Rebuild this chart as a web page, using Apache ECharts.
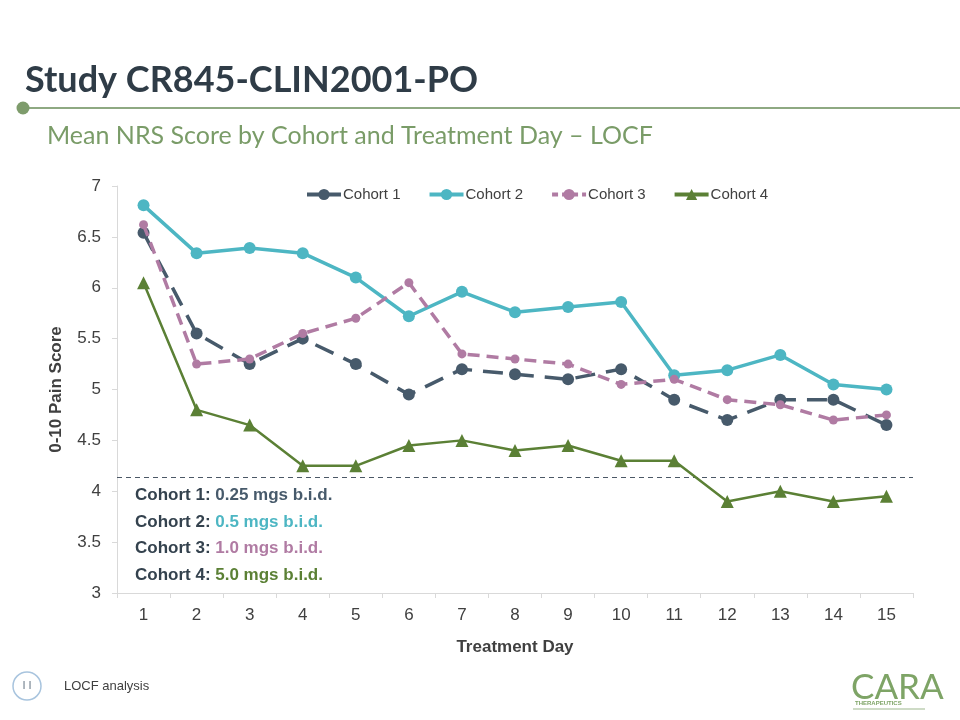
<!DOCTYPE html>
<html>
<head>
<meta charset="utf-8">
<script src="https://cdn.jsdelivr.net/npm/echarts@6/dist/echarts.min.js"></script>
<style>html,body{margin:0;padding:0;background:#fff;}#c{width:960px;height:720px;}</style>
</head>
<body>
<div id="c"></div>
<script>
var days = ['1','2','3','4','5','6','7','8','9','10','11','12','13','14','15'];
var cohort1 = [6.54, 5.55, 5.25, 5.5, 5.25, 4.95, 5.2, 5.15, 5.1, 5.2, 4.9, 4.7, 4.9, 4.9, 4.65];
var cohort2 = [6.81, 6.34, 6.39, 6.34, 6.1, 5.72, 5.96, 5.76, 5.81, 5.86, 5.14, 5.19, 5.34, 5.05, 5.0];
var cohort3 = [6.62, 5.25, 5.3, 5.55, 5.7, 6.05, 5.35, 5.3, 5.25, 5.05, 5.1, 4.9, 4.85, 4.7, 4.75];
var cohort4 = [6.05, 4.8, 4.65, 4.25, 4.25, 4.45, 4.5, 4.4, 4.45, 4.3, 4.3, 3.9, 4.0, 3.9, 3.95];
var seriesNames = ['Cohort 1', 'Cohort 2', 'Cohort 3', 'Cohort 4'];
var doses = ['0.25 mgs b.i.d.', '0.5 mgs b.i.d.', '1.0 mgs b.i.d.', '5.0 mgs b.i.d.'];
var referenceLevel = 4.14;
var yTicks = {min: 3, max: 7, interval: 0.5};

var colors = ['#475a6b', '#4db6c3', '#b07ba3', '#5b8035'];
var chart = echarts.init(document.getElementById('c'), null, {renderer: 'canvas'});

var font = '"Liberation Sans", Arial, sans-serif';
var titleFont = 'Lato, "Open Sans", sans-serif';

function richStyle(c) {
  return {fontFamily: font, fontWeight: 'bold', fontSize: 17, fill: c, color: c, lineHeight: 26.5};
}
var rich = {
  lbl: richStyle('#34424e'),
  d0: richStyle(colors[0]),
  d1: richStyle(colors[1]),
  d2: richStyle(colors[2]),
  d3: richStyle(colors[3])
};
var annText = seriesNames.map(function (n, i) {
  return '{lbl|' + n + ': }{d' + i + '|' + doses[i] + '}';
}).join('\n');

var legendLineTypes = ['solid', 'solid', [6, 4], 'solid'];

var option = {
  animation: false,
  backgroundColor: '#ffffff',
  grid: {left: 117, top: 186, width: 796, height: 407, containLabel: false},
  legend: {
    data: seriesNames.map(function (n, i) {
      return {name: n, lineStyle: {width: 4, type: legendLineTypes[i]}};
    }),
    left: 300, top: 182,
    itemWidth: 34, itemHeight: 14, itemGap: 27,
    textStyle: {fontFamily: font, fontSize: 15, color: '#404040', padding: [0, 0, 0, -3]}
  },
  xAxis: {
    type: 'category',
    data: days,
    boundaryGap: true,
    name: 'Treatment Day',
    nameLocation: 'middle',
    nameGap: 46,
    nameTextStyle: {fontFamily: font, fontWeight: 'bold', fontSize: 17, color: '#404040'},
    axisLine: {lineStyle: {color: '#d9d9d9', width: 1}},
    axisTick: {show: true, length: 5, lineStyle: {color: '#d9d9d9'}},
    axisLabel: {fontFamily: font, fontSize: 17, color: '#404040', margin: 14},
    splitLine: {show: false}
  },
  yAxis: {
    type: 'value',
    min: yTicks.min, max: yTicks.max, interval: yTicks.interval,
    name: '0-10 Pain Score',
    nameLocation: 'middle',
    nameRotate: 90,
    nameGap: 52,
    nameTextStyle: {fontFamily: font, fontWeight: 'bold', fontSize: 17, color: '#404040'},
    axisLine: {show: true, lineStyle: {color: '#d9d9d9', width: 1}},
    axisTick: {show: true, length: 5, lineStyle: {color: '#d9d9d9'}},
    axisLabel: {fontFamily: font, fontSize: 17, color: '#404040', margin: 16},
    splitLine: {show: false}
  },
  series: [
    {
      name: seriesNames[0], type: 'line', data: cohort1,
      color: colors[0], symbol: 'circle', symbolSize: 12,
      lineStyle: {width: 3.5, type: [20, 11], color: colors[0]},
      itemStyle: {color: colors[0]}, z: 3,
      markLine: {
        silent: true, symbol: ['none', 'none'], label: {show: false},
        lineStyle: {color: '#4b5866', type: [5, 4], width: 1.2},
        data: [{yAxis: referenceLevel}]
      }
    },
    {
      name: seriesNames[1], type: 'line', data: cohort2,
      color: colors[1], symbol: 'circle', symbolSize: 12,
      lineStyle: {width: 3.5, color: colors[1]},
      itemStyle: {color: colors[1]}, z: 2
    },
    {
      name: seriesNames[2], type: 'line', data: cohort3,
      color: colors[2], symbol: 'circle', symbolSize: 9,
      lineStyle: {width: 3.5, type: [12, 7], color: colors[2]},
      itemStyle: {color: colors[2]}, z: 4
    },
    {
      name: seriesNames[3], type: 'line', data: cohort4,
      color: colors[3], symbol: 'triangle', symbolSize: 13,
      lineStyle: {width: 2.5, color: colors[3]},
      itemStyle: {color: colors[3]}, z: 5
    }
  ],
  graphic: [
    {type: 'text', left: 25, top: 62, style: {text: 'Study CR845-CLIN2001-PO', font: 'bold 36px ' + titleFont, fill: '#2f3c47'}},
    {type: 'line', shape: {x1: 22, y1: 108, x2: 960, y2: 108}, style: {stroke: '#8ea982', lineWidth: 2}},
    {type: 'circle', shape: {cx: 23, cy: 108, r: 6.5}, style: {fill: '#7e9c6c'}},
    {type: 'text', left: 47, top: 123, style: {text: 'Mean NRS Score by Cohort and Treatment Day \u2013 LOCF', font: '25px ' + titleFont, fill: '#7a9c68'}},
    {type: 'text', left: 135, top: 487, style: {text: annText, rich: rich}},
    {type: 'circle', shape: {cx: 27, cy: 686, r: 14}, style: {fill: '#fff', stroke: '#a8c4de', lineWidth: 1.5}},
    {type: 'text', x: 27, y: 686, style: {text: 'I I', font: '11px ' + font, fill: '#6a7a88', align: 'center', verticalAlign: 'middle'}},
    {type: 'text', left: 64, top: 680, style: {text: 'LOCF analysis', font: '13px ' + font, fill: '#404040'}},
    {type: 'text', left: 851, top: 670, style: {text: 'CARA', font: '35px Lato, sans-serif', fill: '#7ea466'}},
    {type: 'text', left: 855, top: 700, style: {text: 'THERAPEUTICS', font: 'bold 6px ' + font, fill: '#7ea466'}},
    {type: 'line', shape: {x1: 853, y1: 709, x2: 925, y2: 709}, style: {stroke: '#9db78d', lineWidth: 1}}
  ]
};
chart.setOption(option);
</script>
</body>
</html>
